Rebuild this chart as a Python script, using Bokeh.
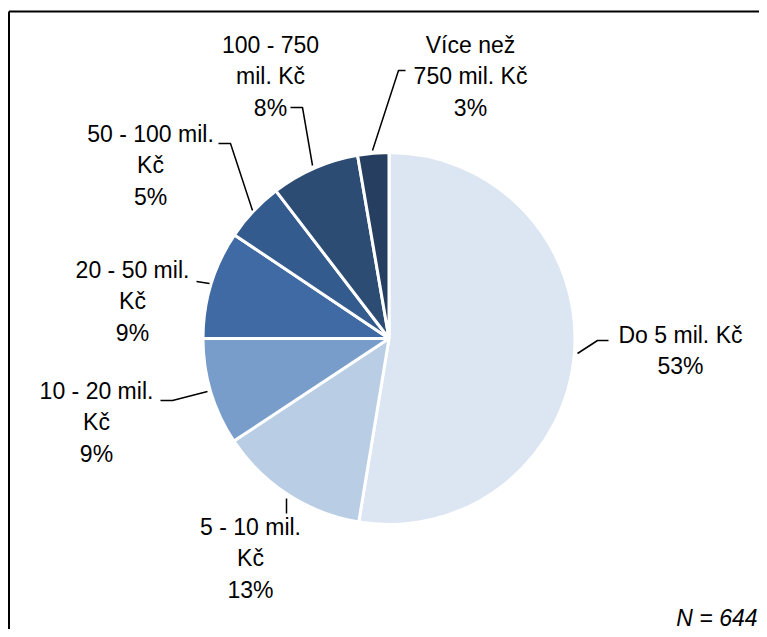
import math
from bokeh.plotting import figure
from bokeh.models import Range1d, ColumnDataSource
from bokeh.core.properties import value
from bokeh.embed import file_html
from bokeh.resources import INLINE

# ---- data ----
categories = ["Do 5 mil. Kč", "5 - 10 mil. Kč", "10 - 20 mil. Kč", "20 - 50 mil. Kč",
              "50 - 100 mil. Kč", "100 - 750 mil. Kč", "Více než 750 mil. Kč"]
shares = [52.6, 13.1, 9.3, 9.4, 5.2, 7.7, 2.7]
label_lines = ["Do 5 mil. Kč\n53%", "5 - 10 mil.\nKč\n13%", "10 - 20 mil.\nKč\n9%",
               "20 - 50 mil.\nKč\n9%", "50 - 100 mil.\nKč\n5%", "100 - 750\nmil. Kč\n8%",
               "Více než\n750 mil. Kč\n3%"]
note = "N = 644"

# ---- styles / layout ----
colors = ["#DCE6F2", "#B9CDE5", "#789DCA", "#3F6AA3", "#345B8D", "#2C4C74", "#263F60"]
W, H = 759, 629
FONT = value("Liberation Sans")


def px(x):  # reference x -> data x
    return x


def py(y):  # reference y -> data y
    return H - y


center = (388.5, 338.0)
radius = 186.0
label_pos = [(680, 350), (250, 558), (96, 422), (132, 301), (150, 165), (270, 76), (470, 76)]
leaders = [
    [(577, 353), (597, 340), (608, 340)],
    [(286, 498), (286, 513)],
    [(207, 391), (172, 400), (160, 400)],
    [(209, 283), (196, 281)],
    [(252, 210), (230, 143), (218, 143)],
    [(312, 165), (302, 107), (290, 107)],
    [(372, 150), (398, 70), (405, 70)],
]

p = figure(width=W, height=H, output_backend="svg", toolbar_location=None,
           x_range=Range1d(0, W), y_range=Range1d(0, H), min_border=0)
p.axis.visible = False
p.grid.visible = False
p.outline_line_color = None
p.background_fill_color = "white"
p.border_fill_color = "white"

# frame (top and left edges visible)
p.multi_line(xs=[[px(8.5), px(8.5)], [px(8.5), px(800)]],
             ys=[[py(11), py(700)], [py(11), py(11)]], line_color="black", line_width=2)

# wedges, clockwise from 12 o'clock
total = sum(shares)
starts, ends = [], []
cum = 0.0
for s in shares:
    starts.append(math.pi / 2 - cum / total * 2 * math.pi)
    cum += s
    ends.append(math.pi / 2 - cum / total * 2 * math.pi)
src = ColumnDataSource(dict(cat=categories, share=shares, start=starts, end=ends, color=colors))
p.wedge(x=px(center[0]), y=py(center[1]), radius=radius, start_angle="start", end_angle="end",
        direction="clock", fill_color="color", line_color="white", line_width=3, source=src)

# leader lines
p.multi_line(xs=[[px(a) for a, b in L] for L in leaders],
             ys=[[py(b) for a, b in L] for L in leaders], line_color="black", line_width=1.5)

# labels
p.text(x=[px(a) for a, b in label_pos], y=[py(b) for a, b in label_pos], text=label_lines,
       text_font=FONT, text_font_size="23px", text_align="center", text_baseline="middle",
       text_line_height=1.2, text_color="black")

p.text(x=[px(757)], y=[py(617)], text=[note], text_font=FONT, text_font_size="23px",
       text_font_style="italic", text_align="right", text_baseline="middle", text_color="black")

open("out.html", "w").write(file_html(p, INLINE))
